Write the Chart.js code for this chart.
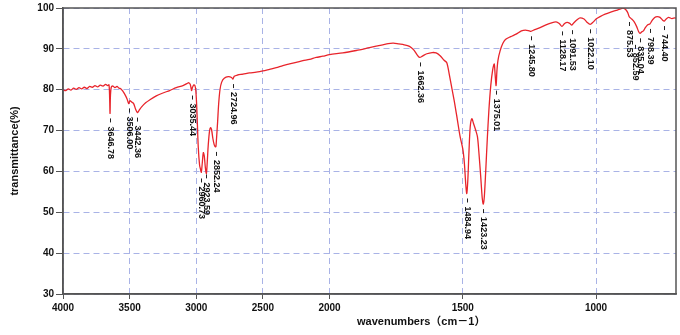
<!DOCTYPE html>
<html>
<head>
<meta charset="utf-8">
<script src="https://cdn.jsdelivr.net/npm/chart.js@4.4.1/dist/chart.umd.min.js"></script>
<style>
  html, body { margin: 0; padding: 0; background: #fff; }
  #wrap { width: 680px; height: 335px; }
</style>
</head>
<body>
<div id="wrap"><canvas id="ir-chart"></canvas></div>
<script>
// spectrum (wavenumber cm-1 / transmittance %)
var waveNumbers = [
  4000, 3980, 3960, 3940, 3920, 3900, 3880, 3860, 3840, 3820, 3800, 3780, 3760, 3740, 3720, 3700,
  3680, 3665, 3655, 3650, 3647, 3644, 3638, 3625, 3610, 3595, 3580, 3565, 3550, 3535, 3520, 3510,
  3506, 3498, 3485, 3470, 3455, 3442, 3430, 3410, 3380, 3350, 3300, 3250, 3200, 3150, 3100, 3070,
  3055, 3045, 3038, 3035, 3028, 3018, 3010, 3004, 2998, 2992, 2985, 2975, 2968, 2962, 2955, 2947,
  2940, 2932, 2924, 2918, 2910, 2900, 2892, 2885, 2875, 2865, 2856, 2852, 2848, 2840, 2832, 2822,
  2810, 2790, 2760, 2735, 2725, 2715, 2690, 2650, 2600, 2550, 2500, 2450, 2400, 2350, 2300, 2250,
  2200, 2150, 2100, 2050, 2000, 1950, 1900, 1850, 1800, 1780, 1760, 1740, 1720, 1700, 1685, 1672,
  1662, 1650, 1635, 1615, 1600, 1585, 1570, 1560, 1550, 1540, 1530, 1520, 1510, 1500, 1494, 1489,
  1485, 1481, 1477, 1472, 1466, 1460, 1452, 1445, 1440, 1433, 1427, 1423, 1419, 1414, 1408, 1402,
  1395, 1388, 1382, 1379, 1375, 1372, 1368, 1360, 1350, 1340, 1320, 1300, 1280, 1265, 1250, 1245,
  1230, 1210, 1190, 1170, 1150, 1138, 1128, 1118, 1108, 1098, 1091, 1083, 1070, 1060, 1045, 1035,
  1022, 1010, 1000, 985, 966, 945, 925, 910, 900, 890, 882, 875, 868, 858, 848, 840,
  835, 828, 822, 815, 806, 798, 790, 780, 770, 760, 750, 744, 737, 728, 715, 705, 700
];
var transmittance = [
  80.0, 79.8, 80.2, 79.9, 80.4, 80.1, 80.5, 80.2, 80.6, 80.3, 80.8, 80.6, 81.0, 80.7, 81.1, 80.9,
  81.3, 81.0, 81.2, 78.0, 74.2, 78.5, 80.6, 80.9, 80.5, 80.8, 80.4, 80.2, 79.6, 78.8, 77.8, 76.8,
  76.6, 77.3, 77.0, 76.6, 75.2, 74.4, 74.9, 75.8, 76.8, 77.5, 78.5, 79.2, 79.8, 80.5, 81.0, 81.5,
  81.7, 81.3, 80.2, 79.8, 80.6, 81.2, 81.0, 80.0, 77.0, 72.0, 66.0, 61.5, 60.5, 59.8, 62.0, 64.6,
  63.8, 61.0, 59.5, 62.0, 66.5, 70.0, 70.7, 70.2, 68.0, 66.5, 66.0, 66.2, 68.0, 72.0, 76.5, 80.0,
  81.8, 82.8, 83.2, 83.0, 82.6, 83.3, 83.6, 83.8, 84.1, 84.3, 84.6, 85.0, 85.4, 85.9, 86.3, 86.7,
  87.1, 87.4, 87.9, 88.2, 88.6, 89.0, 89.6, 90.3, 91.0, 91.3, 91.4, 91.2, 91.0, 90.6, 89.8, 88.6,
  87.9, 88.3, 88.8, 89.1, 89.0, 88.3, 87.2, 86.6, 83.5, 80.0, 76.5, 72.5, 68.5, 65.5, 62.0, 57.0,
  54.6, 58.0, 64.5, 71.0, 72.9, 71.8, 70.2, 68.5, 65.0, 59.0, 53.5, 52.0, 54.0, 60.0, 68.0, 75.0,
  81.0, 84.8, 86.3, 84.0, 81.0, 84.5, 87.2, 89.5, 91.3, 92.3, 93.0, 93.6, 94.4, 94.6, 94.4, 94.3,
  94.7, 95.2, 95.8, 96.3, 96.6, 96.2, 95.5, 96.2, 96.5, 96.2, 95.8, 96.4, 97.2, 97.6, 97.3, 96.6,
  96.0, 96.6, 97.3, 97.9, 98.5, 99.0, 99.4, 99.7, 100.0, 99.7, 99.0, 97.8, 97.4, 96.7, 95.5, 94.2,
  93.8, 94.2, 94.4, 95.2, 95.9, 96.1, 96.9, 97.7, 97.9, 97.7, 97.0, 96.8, 97.3, 97.7, 97.4, 97.6, 97.5
];

// peak picks printed under the trace
var peakWaves = [3646.78, 3506.00, 3442.36, 3035.44, 2960.73, 2923.59, 2852.24, 2724.96, 1662.36,
  1484.94, 1423.23, 1375.01, 1245.80, 1128.17, 1091.53, 1022.10, 875.53, 852.59, 835.04, 798.39, 744.40];
var peakTrans = [74.2, 76.6, 74.4, 79.8, 59.5, 60.5, 66.0, 82.6, 87.9,
  54.6, 52.0, 81.0, 94.3, 95.5, 95.8, 96.0, 97.8, 92.2, 93.8, 96.1, 96.8];
var peakLabels = ['3646.78', '3506.00', '3442.36', '3035.44', '2960.73', '2923.59', '2852.24', '2724.96', '1662.36',
  '1484.94', '1423.23', '1375.01', '1245.80', '1128.17', '1091.53', '1022.10', '875.53', '852.59', '835.04', '798.39', '744.40'];

var xTicks = [4000, 3500, 3000, 2500, 2000, 1500, 1000];
var yTicks = [30, 40, 50, 60, 70, 80, 90, 100];

// spectrometer axis: 4000-2000 at one scale, below 2000 expanded x2
function irPos(w) {
  return w >= 2000 ? (4000 - w) : 2000 + 2 * (2000 - w);
}

class IrScale extends Chart.LinearScale {
  buildTicks() {
    return xTicks.map(v => ({ value: v }));
  }
  getPixelForValue(value) {
    return this.getPixelForDecimal(irPos(value) / irPos(this.min));
  }
  getValueForPixel(pixel) {
    var u = this.getDecimalForPixel(pixel) * irPos(this.min);
    return u <= 2000 ? 4000 - u : 2000 - (u - 2000) / 2;
  }
}
IrScale.id = 'ir';
IrScale.defaults = Chart.LinearScale.defaults;
Chart.register(IrScale);

var irExtras = {
  id: 'irExtras',
  afterDraw(chart) {
    var ctx = chart.ctx, a = chart.chartArea;
    var xs = chart.scales.x, ys = chart.scales.y;
    ctx.save();
    ctx.strokeStyle = '#555';
    ctx.lineWidth = 1.5;
    ctx.strokeRect(a.left, a.top, a.right - a.left, a.bottom - a.top);

    ctx.fillStyle = '#111';
    ctx.strokeStyle = '#222';
    ctx.lineWidth = 1;
    ctx.font = "bold 9px 'Liberation Sans Narrow', 'Liberation Sans', sans-serif";
    ctx.textAlign = 'left';
    ctx.textBaseline = 'middle';
    peakWaves.forEach((w, i) => {
      var px = Math.round(xs.getPixelForValue(w)) + 0.5;
      var py = ys.getPixelForValue(peakTrans[i]);
      ctx.beginPath();
      ctx.moveTo(px, py + 5);
      ctx.lineTo(px, py + 9);
      ctx.stroke();
      ctx.save();
      ctx.translate(px, py + 13);
      ctx.rotate(Math.PI / 2);
      ctx.fillText(peakLabels[i], 0, 0);
      ctx.restore();
    });

    ctx.font = "bold 11px 'Liberation Sans', 'Noto Sans CJK JP', sans-serif";
    ctx.textBaseline = 'middle';
    ctx.fillText('wavenumbers（cm－1）', 357, 322);
    ctx.restore();
  }
};

var chartIr = new Chart(
  document.getElementById('ir-chart').getContext('2d'),
  { type: 'line',
    data: {
      labels: waveNumbers,
      datasets: [{
        data: waveNumbers.map((w, i) => ({ x: w, y: transmittance[i] })),
        borderColor: '#e8242b',
        borderWidth: 1.3,
        pointRadius: 0,
        tension: 0.3,
        fill: false
      }]
    },
    options: {
      responsive: true,
      maintainAspectRatio: false,
      animation: false,
      layout: { padding: { left: 0, right: 4, top: 7, bottom: 0 } },
      plugins: {
        legend: { display: false },
        tooltip: { enabled: false }
      },
      scales: {
        x: {
          type: 'ir',
          min: 700,
          max: 4000,
          afterFit: s => { s.height = 41; },
          grid: {
            color: '#a9b3e6',
            lineWidth: 1,
            tickLength: 5,
            tickColor: '#555',
            tickBorderDash: []
          },
          border: { display: true, color: '#555', width: 1.5, dash: [6, 4] },
          ticks: {
            color: '#111',
            padding: 3,
            maxRotation: 0,
            font: { family: "'Liberation Sans', Arial, sans-serif", size: 10, weight: 'bold' },
            callback: v => String(v)
          }
        },
        y: {
          min: 30,
          max: 100,
          afterFit: s => { s.width = 63; },
          afterBuildTicks: s => { s.ticks = yTicks.map(v => ({ value: v })); },
          grid: {
            color: '#a9b3e6',
            lineWidth: 1,
            tickLength: 7,
            tickColor: '#555',
            tickBorderDash: []
          },
          border: { display: true, color: '#555', width: 1.5, dash: [6, 4] },
          ticks: {
            color: '#111',
            padding: 2,
            font: { family: "'Liberation Sans', Arial, sans-serif", size: 10, weight: 'bold' }
          },
          title: {
            display: true,
            text: 'transmittance(%)',
            color: '#111',
            padding: { top: 8, bottom: 0 },
            font: { family: "'Liberation Sans', Arial, sans-serif", size: 11, weight: 'bold' }
          }
        }
      }
    },
    plugins: [irExtras]
  }
); /* <-- End 'chartIr' */
</script>
</body>
</html>
